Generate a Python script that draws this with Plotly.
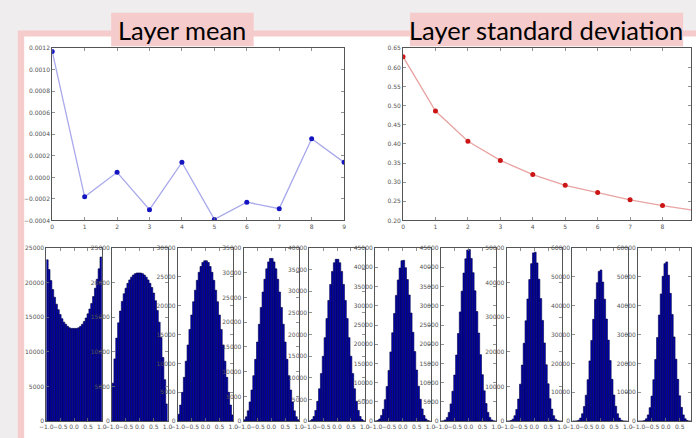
import numpy as np
import plotly.graph_objects as go

W, H = 696, 438

# ---------------- data ----------------
LAYERS = list(range(10))
LAYER_MEAN = [0.00117, -0.00018, 0.000048, -0.00030, 0.00014,
              -0.00039, -0.00023, -0.00029, 0.00036, 0.00014]
LAYER_STD = [0.628, 0.486, 0.407, 0.357, 0.320, 0.292, 0.273, 0.254, 0.239, 0.226]

MEAN_TICKS = [-0.0004, -0.0002, 0.0, 0.0002, 0.0004, 0.0006, 0.0008, 0.0010, 0.0012]
MEAN_TICK_LABELS = ["\u22120.0004", "\u22120.0002", "0.0000", "0.0002", "0.0004",
                    "0.0006", "0.0008", "0.0010", "0.0012"]
STD_TICKS = [0.20, 0.25, 0.30, 0.35, 0.40, 0.45, 0.50, 0.55, 0.60, 0.65]
STD_TICK_LABELS = ["0.20", "0.25", "0.30", "0.35", "0.40", "0.45", "0.50", "0.55", "0.60", "0.65"]

HIST_X_TICKS = [-1.0, -0.5, 0.0, 0.5, 1.0]
HIST_X_TICK_LABELS = ["\u22121.0", "\u22120.5", "0.0", "0.5", "1.0"]

BIN_EDGES = np.linspace(-1.0, 1.0, 31)   # hist(H, 30, range=(-1, 1))

HIST_L0 = [23300, 21900, 20300, 19000, 17900, 16900, 16100, 15400, 14800, 14300,
           14000, 13700, 13500, 13400, 13400, 13400, 13400, 13500, 13700, 14000,
           14400, 14900, 15500, 16200, 17000, 18000, 19200, 20500, 22000, 23700]
HIST_L1 = [5500, 9000, 12000, 14200, 15900, 17300, 18400, 19200, 19900, 20400,
           20800, 21100, 21300, 21400, 21400, 21400, 21300, 21100, 20800, 20400,
           19900, 19300, 18500, 17400, 16000, 14300, 12100, 9200, 6000, 2500]
HIST_L2 = [1200, 2800, 5000, 7600, 10400, 13200, 15900, 18400, 20700, 22700,
           24400, 25800, 26800, 27500, 27800, 27800, 27500, 26800, 25800, 24400,
           22700, 20700, 18400, 15900, 13200, 10400, 7600, 5000, 2800, 1100]
HIST_L3 = [300, 900, 2100, 3900, 6300, 9200, 12500, 16000, 19600, 23000,
           26100, 28700, 30800, 32200, 32900, 32900, 32200, 30800, 28700, 26100,
           23000, 19600, 16000, 12500, 9200, 6300, 3900, 2100, 900, 300]
HIST_L4 = [100, 400, 1100, 2500, 4600, 7500, 11000, 15000, 19300, 23700,
           27900, 31600, 34600, 36600, 37400, 37400, 36600, 34600, 31600, 27900,
           23700, 19300, 15000, 11000, 7500, 4600, 2500, 1100, 400, 100]
HIST_L5 = [50, 200, 600, 1500, 3100, 5600, 9000, 13200, 18000, 23000,
           28000, 32700, 36700, 39800, 41700, 41800, 39900, 36800, 32800, 28100,
           23100, 18100, 13300, 9100, 5700, 3200, 1500, 600, 200, 50]
HIST_L6 = [20, 100, 350, 1000, 2300, 4500, 7800, 12000, 17200, 22800,
           28400, 33800, 38500, 42200, 44500, 44600, 42300, 38600, 33900, 28500,
           22900, 17300, 12100, 7900, 4600, 2300, 1000, 350, 100, 20]
HIST_L7 = [10, 50, 200, 600, 1600, 3400, 6400, 10700, 16200, 22500,
           29000, 35300, 40900, 45500, 48600, 48800, 45700, 41000, 35400, 29100,
           22600, 16300, 10800, 6500, 3500, 1600, 600, 200, 50, 10]
HIST_L8 = [5, 30, 110, 370, 1100, 2600, 5100, 9000, 14400, 20900,
           28000, 35300, 42200, 48000, 51900, 52400, 48200, 42300, 35400, 28100,
           21000, 14500, 9100, 5200, 2600, 1100, 370, 110, 30, 5]
HIST_L9 = [2, 15, 70, 260, 850, 2200, 4700, 8700, 14400, 21400,
           29000, 36800, 44100, 50200, 54600, 55200, 50600, 44300, 37000, 29200,
           21500, 14500, 8800, 4800, 2200, 850, 260, 70, 15, 2]
HISTS = [HIST_L0, HIST_L1, HIST_L2, HIST_L3, HIST_L4,
         HIST_L5, HIST_L6, HIST_L7, HIST_L8, HIST_L9]
HIST_YMAX = [25000, 25000, 30000, 35000, 40000, 45000, 45000, 50000, 60000, 60000]
HIST_YSTEP = [5000, 5000, 5000, 5000, 5000, 5000, 5000, 10000, 10000, 10000]

# ---------------- styling helpers ----------------
PINK = "#f6cbcb"
BG = "#efedee"
FRAME = "#555555"
TICKFONT = dict(family="DejaVu Sans", size=6, color="#555555")


def xdom(a, b):
    return [max(0, a / W), min(1, b / W)]


def ydom(top, bottom):
    return [1 - bottom / H, 1 - top / H]


def axis_style(**kw):
    d = dict(showline=True, linecolor=FRAME, linewidth=1, mirror="allticks",
             ticks="inside", ticklen=3, tickwidth=0.8, tickcolor="#777777",
             showgrid=False, zeroline=False, tickfont=TICKFONT, fixedrange=True,
             tickangle=0)
    d.update(kw)
    return d


fig = go.Figure()
layout = dict(width=W, height=H, autosize=False,
              margin=dict(l=0, r=0, t=0, b=0),
              paper_bgcolor=BG, plot_bgcolor="white", showlegend=False,
              hovermode=False)

# ---- top-left: layer mean ----
fig.add_trace(go.Scatter(x=LAYERS, y=LAYER_MEAN, mode="lines+markers",
                         line=dict(color="#a9a9ec", width=1.3),
                         marker=dict(color="#1414c0", size=5),
                         xaxis="x", yaxis="y"))
layout["xaxis"] = axis_style(domain=xdom(46, 343), range=[0, 9],
                             tickvals=LAYERS, ticktext=[str(v) for v in LAYERS],
                             anchor="y")
layout["yaxis"] = axis_style(domain=ydom(45, 220), range=[-0.0004, 0.0012],
                             tickvals=MEAN_TICKS, ticktext=MEAN_TICK_LABELS,
                             anchor="x")

# ---- top-right: layer std ----
unit = (343 - 46) / 9.0
xr_right = (W - 403) / unit
fig.add_trace(go.Scatter(x=LAYERS, y=LAYER_STD, mode="lines+markers",
                         line=dict(color="#e9a3a3", width=1.3),
                         marker=dict(color="#cc1515", size=5),
                         xaxis="x2", yaxis="y2"))
layout["xaxis2"] = axis_style(domain=xdom(403, W), range=[0, xr_right],
                              tickvals=LAYERS, ticktext=[str(v) for v in LAYERS],
                              anchor="y2")
layout["yaxis2"] = axis_style(domain=ydom(45, 220), range=[0.20, 0.65],
                              tickvals=STD_TICKS, ticktext=STD_TICK_LABELS,
                              anchor="x2")

# ---- histograms ----
centers = (BIN_EDGES[:-1] + BIN_EDGES[1:]) / 2
bw = BIN_EDGES[1] - BIN_EDGES[0]
pstep, pw = 66.9, 56.5
for i, counts in enumerate(HISTS):
    k = i + 3
    xa, ya = f"x{k}", f"y{k}"
    left = 40 + pstep * i
    right = left + pw
    xmax = 1.0
    if right > W:
        xmax = -1 + 2 * (W - left) / pw
        right = W
    fig.add_trace(go.Bar(x=centers, y=counts, width=bw,
                         marker=dict(color="#0000b4",
                                     line=dict(color="#000040", width=0.6)),
                         xaxis=xa, yaxis=ya))
    yt = list(range(0, HIST_YMAX[i] + 1, HIST_YSTEP[i]))
    layout[f"xaxis{k}"] = axis_style(domain=xdom(left, right), range=[-1, xmax],
                                     tickvals=HIST_X_TICKS, ticktext=HIST_X_TICK_LABELS,
                                     anchor=ya)
    layout[f"yaxis{k}"] = axis_style(domain=ydom(248, 424), range=[0, HIST_YMAX[i]],
                                     tickvals=yt, ticktext=[str(v) for v in yt],
                                     anchor=xa)

layout["bargap"] = 0

# ---- slide frame and title boxes ----
def px_rect(x0, y0, x1, y1, color):
    return dict(type="rect", xref="paper", yref="paper", layer="below",
                x0=x0 / W, x1=x1 / W, y0=1 - y1 / H, y1=1 - y0 / H,
                fillcolor=color, line=dict(width=0))

layout["shapes"] = [
    px_rect(11, 27, W + 10, H + 10, PINK),
    px_rect(17.5, 33, W + 10, H + 10, "white"),
    px_rect(106, 9, 251, 43, PINK),
    px_rect(410, 9, 688, 43, PINK),
]
layout["annotations"] = [
    dict(text="Layer mean", xref="paper", yref="paper", x=178.5 / W, y=1 - 26 / H,
         xanchor="center", yanchor="middle", showarrow=False,
         font=dict(family="Lato", size=25.5, color="black")),
    dict(text="Layer standard deviation", xref="paper", yref="paper", x=548 / W, y=1 - 26 / H,
         xanchor="center", yanchor="middle", showarrow=False,
         font=dict(family="Lato", size=25.5, color="black")),
]

fig.update_layout(**layout)
fig.write_html(
    "out.html",
    config={"displayModeBar": False, "staticPlot": True},
    post_script="document.body.style.margin='0';document.body.style.padding='0';"
                "document.body.style.overflow='hidden';"
                "document.body.style.background='#efedee';",
)
